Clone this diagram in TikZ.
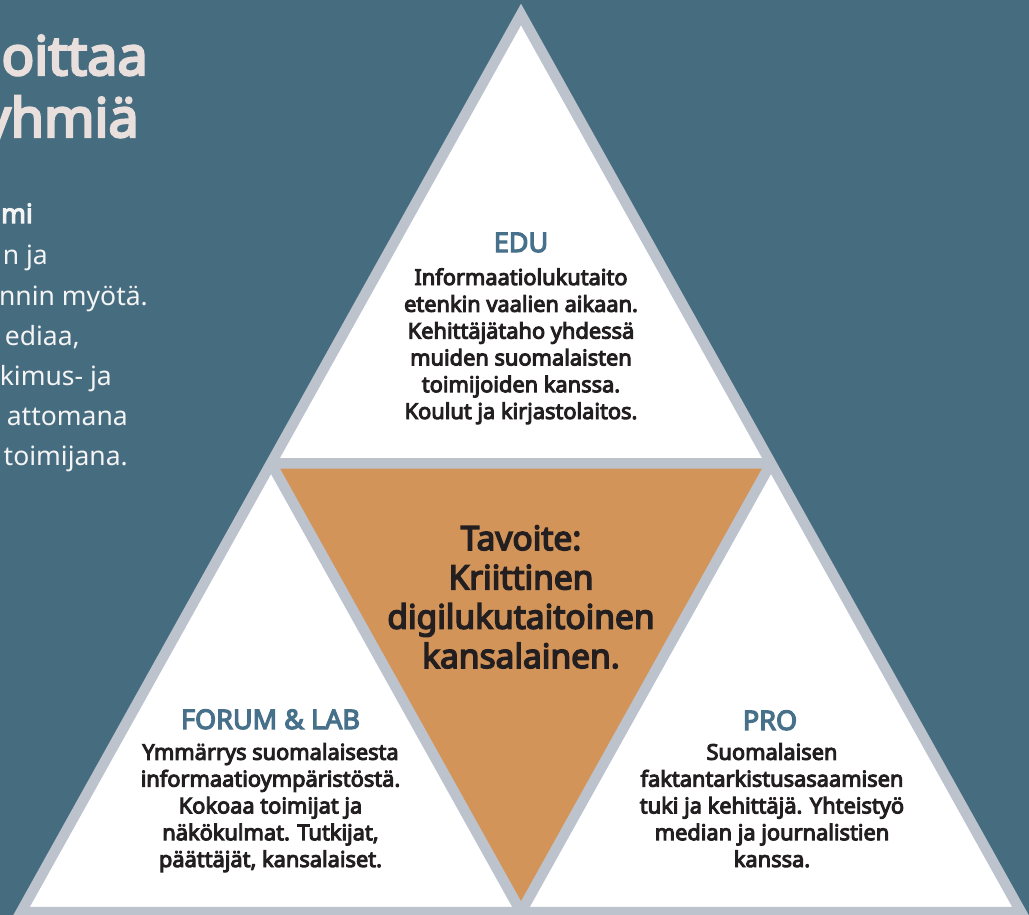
\documentclass[tikz,border=0pt]{standalone}
\usepackage{fontspec}
\setmainfont{Noto Sans}[BoldFont={Noto Sans},BoldFeatures={FakeBold=4.5}]
\usepackage{xcolor}
\definecolor{SlateBg}{HTML}{466C80}
\definecolor{FrameGray}{HTML}{BCC3CD}
\definecolor{GoalOrange}{HTML}{D3945A}
\definecolor{HeadBlue}{HTML}{47708A}
\definecolor{BodyInk}{HTML}{231F20}
\definecolor{TitleRose}{HTML}{E9DFDC}
\definecolor{IntroWhite}{HTML}{F4F4F4}
\usetikzlibrary{calc}
\newcommand{\pagesizex}{1029}
\newcommand{\pagesizey}{915}
\newcommand{\framewidth}{10.5pt}

\begin{document}
\begin{tikzpicture}[x=1pt,y=-1pt,anchor=base,inner sep=0pt,
  sideline/.style={draw=FrameGray,line width=\framewidth,line join=miter},
  headtext/.style={font=\fontsize{27}{30}\selectfont\bfseries,text=HeadBlue},
  bodytext/.style={font=\fontsize{21.8}{26.8}\selectfont\bfseries,text=BodyInk,align=center},
  goaltext/.style={font=\fontsize{33.5}{39.3}\selectfont\bfseries,text=BodyInk,align=center},
  titletext/.style={font=\fontsize{54}{62}\selectfont\bfseries,text=TitleRose,anchor=base east},
  introtext/.style={font=\fontsize{26.5}{40}\selectfont,text=IntroWhite,anchor=base east}]
    \useasboundingbox (0,0) rectangle (\pagesizex,\pagesizey);
    \fill[SlateBg] (0,0) rectangle (\pagesizex,\pagesizey);
    % left text, cut by the page edge
    \node[titletext] (title1) at (148,75) {oittaa};
    \node[titletext] (title2) at (139,137) {yhmiä};
    \node[introtext,font=\fontsize{26.5}{40}\selectfont\bfseries] (intro0) at (33,223) {mi};
    \node[introtext] (intro1) at (48,265) {n ja};
    \node[introtext] (intro2) at (148,305) {nnin myötä.};
    \node[introtext] (intro3) at (80,345) {ediaa,};
    \node[introtext] (intro4) at (112,385) {kimus- ja};
    \node[introtext] (intro5) at (128,425) {attomana};
    \node[introtext] (intro6) at (128,465) {toimijana.};
    % triangle corners
    \coordinate (apex) at (521,14.5);
    \coordinate (bl) at (21,912);
    \coordinate (br) at (1021,912);
    \coordinate (ml) at ($(apex)!0.5!(bl)$);
    \coordinate (mr) at ($(apex)!0.5!(br)$);
    \coordinate (mb) at ($(bl)!0.5!(br)$);
    \fill[white] (apex) -- (bl) -- (br) -- cycle;
    \begin{scope}
      \clip (apex) -- (bl) -- (br) -- cycle;
      \filldraw[sideline,fill=GoalOrange] (ml) -- (mr) -- (mb) -- cycle;
    \end{scope}
    \draw[sideline] (apex) -- (bl) -- (br) -- cycle;
    % edu part (base = last line)
    \node[headtext] (eduhead) at (521,252) {EDU};
    \node[bodytext] (edubody) at (521,419) {Informaatiolukutaito\\etenkin vaalien aikaan.\\Kehittäjätaho yhdessä\\muiden suomalaisten\\toimijoiden kanssa.\\Koulut ja kirjastolaitos.};
    % goal part
    \node[goaltext] (goal) at (521,668) {Tavoite:\\Kriittinen\\digilukutaitoinen\\kansalainen.};
    % forum part
    \node[headtext] (forumhead) at (270.5,729) {FORUM \& LAB};
    \node[bodytext] (forumbody) at (270.5,867) {Ymmärrys suomalaisesta\\informaatioympäristöstä.\\Kokoaa toimijat ja\\näkökulmat. Tutkijat,\\päättäjät, kansalaiset.};
    % pro part
    \node[headtext] (prohead) at (770,730) {PRO};
    \node[bodytext] (probody) at (772,867) {Suomalaisen\\faktantarkistusasaamisen\\tuki ja kehittäjä. Yhteistyö\\median ja journalistien\\kanssa.};
\end{tikzpicture}
\end{document}
